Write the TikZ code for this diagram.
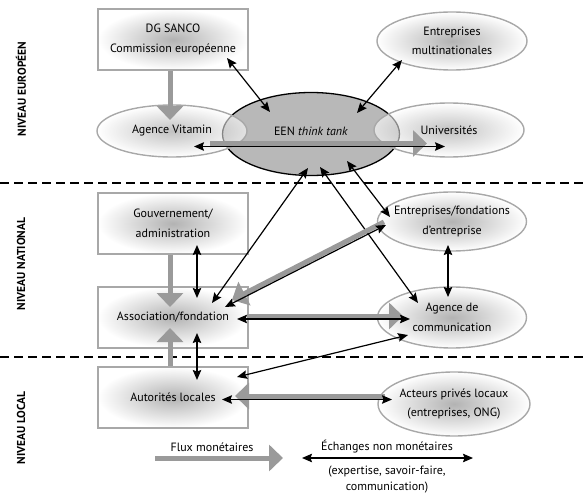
\documentclass[tikz,border=0pt]{standalone}
\usepackage{fontspec}
\setmainfont{PT Sans}
\usepackage{tikz}
\usetikzlibrary{calc, positioning, shapes.geometric}
\usetikzlibrary{arrows.meta}
\tikzset{>={Stealth[length=10pt,width=8.5pt,inset=1.5pt]}}
\definecolor{mygray}{HTML}{9A9A9A}
\definecolor{myframe}{HTML}{A8A8A8}
\definecolor{myfill}{HTML}{B8B8B8}
\newcommand{\mytxt}{\fontsize{12}{19.5}\selectfont}
\tikzset{
  box/.style={draw=myframe, line width=1.4pt, inner color=black!30, outer color=white, minimum width=150pt, minimum height=61pt, align=center, font=\mytxt},
  lightell/.style={draw=myframe, line width=1.4pt, ellipse, inner color=black!30, outer color=white},
  seeell/.style={lightell, inner color=black!40, fill opacity=0.6},
  txt/.style={align=center, font=\mytxt, text opacity=1},
  flux/.style={draw=mygray, line width=5pt, -{Triangle[length=14pt,width=26pt]}},
  ech/.style={<->, line width=1.2pt},
  niveau/.style={rotate=90, font=\bfseries\fontsize{11.5}{13}\selectfont},
  sep/.style={line width=1.4pt, dash pattern=on 9pt off 5pt}
}

\begin{document}
\begin{tikzpicture}[x=1pt, y=-1pt]
				\useasboundingbox (0,0) rectangle (587,495);
				\draw [sep] (0,183) -- (587,183);
				\draw [sep] (0,357) -- (587,357);
				\node [niveau] (eur) at (21,89) {NIVEAU EUROPÉEN};
				\node [niveau] (nat) at (21,264) {NIVEAU NATIONAL};
				\node [niveau] (loc) at (21,428) {NIVEAU LOCAL};
				\node [box] (dg) at (173,39.5) {DG SANCO\\Commission européenne};
				\node [box] (gouv) at (173,223.5) {Gouvernement/\\administration};
				\node [box] (assoc) at (173,317.5) {Association/fondation};
				\node [box] (autor) at (173,397.5) {Autorités locales};
				\node [ellipse, draw=black, line width=1.3pt, fill=myfill, minimum width=177pt, minimum height=83pt, label={[txt, yshift=3pt]center:{EEN \textit{think tank}}}] (een) at (311,134) {};
				\node [seeell, minimum width=150pt, minimum height=52pt, label={[txt]center:Agence Vitamin}] (vitamin) at (172,131) {};
				\node [seeell, minimum width=150pt, minimum height=54pt, label={[txt]center:Universités}] (univ) at (449,130) {};
				\node [lightell, minimum width=150pt, minimum height=58pt, label={[txt]center:{Entreprises\\multinationales}}] (multi) at (452,41) {};
				\node [lightell, minimum width=149pt, minimum height=59pt, label={[txt]center:{Entreprises/fondations\\d'entreprise}}] (entfond) at (452,221.5) {};
				\node [lightell, minimum width=149pt, minimum height=61pt, label={[txt]center:{Agence de\\communication}}] (agcom) at (452,317.5) {};
				\node [lightell, minimum width=152pt, minimum height=64pt, label={[txt]center:{Acteurs privés locaux\\(entreprises, ONG)}}] (acteurs) at (454,404) {};
				\draw [flux] ($(dg.south)+(-3,0)$) -- ($(vitamin)+(-2,-11)$);
				\draw [ech] ($(dg)+(54,18.5)$) -- ($(een)+(-41,-22)$);
				\draw [ech] ($(multi)+(-50,19)$) -- ($(een)+(46,-21)$);
				\draw [flux] ($(vitamin)+(38,12.5)$) -- ($(univ)+(-22,13.5)$);
				\draw [ech] ($(vitamin)+(22,15.5)$) -- ($(univ)+(-4,16.5)$);
				\draw [flux] ($(gouv.south)+(-3,0)$) -- ($(assoc)+(-3,-10.5)$);
				\draw [ech] ($(gouv)+(24,21.5)$) -- ($(assoc)+(24,-19.5)$);
				\draw [flux] ($(autor.north)+(-3,0)$) -- ($(assoc)+(-3,10.5)$);
				\draw [ech] ($(assoc)+(24,15.5)$) -- ($(autor)+(24,-17.5)$);
				\draw [ech] ($(een)+(-3,34)$) -- ($(assoc)+(39,-14.5)$);
				\draw [ech] ($(een)+(9,33)$) -- ($(agcom)+(-34,-14.5)$);
				\draw [ech] ($(een)+(36,27)$) -- ($(entfond)+(-62,-4.5)$);
				\draw [flux] ($(entfond)+(-68,0.5)$) -- ($(assoc)+(59,-17.5)$);
				\draw [ech] ($(entfond)+(-66,3.5)$) -- ($(assoc)+(52,-10.5)$);
				\draw [ech] ($(entfond)+(-4,23.5)$) -- ($(agcom)+(-4,-20.5)$);
				\draw [flux] ($(assoc)+(74,-1.5)$) -- ($(agcom)+(-49,-1.5)$);
				\draw [ech] ($(assoc)+(64,1.5)$) -- ($(agcom)+(-42,1.5)$);
				\draw [ech] ($(autor)+(64,-20.5)$) -- ($(agcom)+(-44,17.5)$);
				\draw [flux] ($(acteurs)+(-69,-8)$) -- ($(autor)+(62,-1.5)$);
				\draw [ech] ($(autor)+(49,2)$) -- ($(acteurs)+(-62,-4.5)$);
				\node [txt] (fluxlbl) at (212,447) {Flux monétaires};
				\coordinate (f1) at (155,458);
				\coordinate (f2) at (283,458);
				\draw [flux] (f1) -- (f2);
				\node [txt] (echlbl) at (387,447) {Échanges non monétaires};
				\coordinate (e1) at (302,458);
				\coordinate (e2) at (473,458);
				\draw [ech] (e1) -- (e2);
				\node [txt, font=\fontsize{12}{16}\selectfont] (echdet) at (387,480) {(expertise, savoir-faire,\\communication)};
			\end{tikzpicture}
\end{document}
